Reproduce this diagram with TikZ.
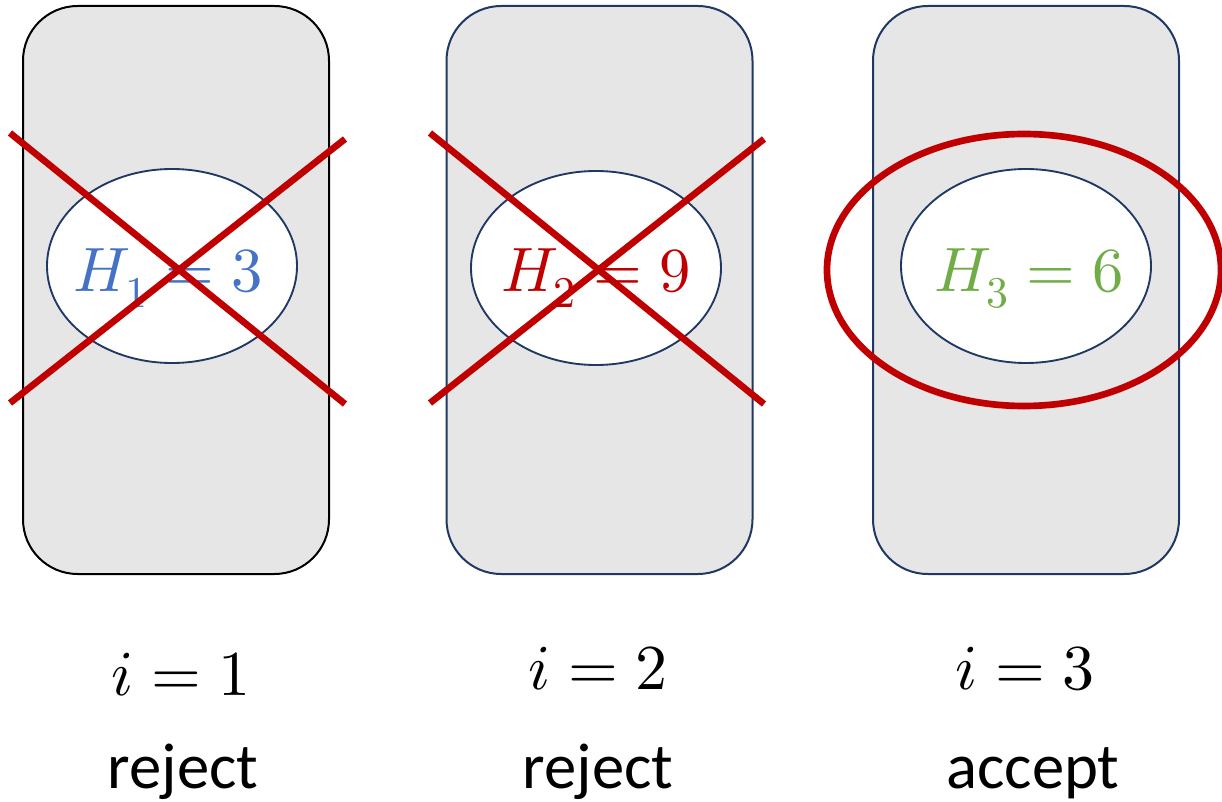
\documentclass[tikz,border=0pt]{standalone}
\usepackage{fontspec}
\usepackage{unicode-math}
\setmainfont{Carlito}
\setmathfont{Latin Modern Math}
\usetikzlibrary{shapes.geometric}
\definecolor{cardfill}{HTML}{E6E6E6}
\definecolor{navy}{HTML}{1F3864}
\definecolor{xred}{HTML}{C00000}
\definecolor{hblue}{HTML}{4472C4}
\definecolor{hgreen}{HTML}{70AD47}
\begin{document}
\begin{tikzpicture}[x=0.75pt,y=-0.75pt,
  card/.style={draw=navy,fill=cardfill,line width=1.5pt,rounded corners=41pt,
    minimum width=229.5pt,minimum height=426pt,inner sep=0pt},
  oval/.style={ellipse,draw=navy,fill=white,line width=1.4pt,
    minimum width=187.5pt,minimum height=145.5pt,inner sep=0pt},
  hval/.style={anchor=base,inner sep=0pt,font=\fontsize{47}{56}\selectfont},
  cross/.style={xred,line width=5pt},
  ring/.style={ellipse,draw=xred,line width=5pt,minimum width=295.5pt,
    minimum height=204pt,inner sep=0pt},
  idx/.style={anchor=base,inner sep=0pt,font=\fontsize{48}{58}\selectfont},
  verdict/.style={anchor=base,inner sep=0pt,font=\fontsize{48.5}{58}\selectfont}]
\useasboundingbox (0,0) rectangle (1222,802);
% cards
\node[card,draw=black] (c1) at (176,290) {};
\node[card] (c2) at (599.5,290) {};
\node[card] (c3) at (1026,290) {};
% ovals
\node[oval] (o1) at (172,266) {};
\node[oval] (o2) at (596,268) {};
\node[oval] (o3) at (1026,266) {};
% values
\node[hval,text=hblue] (h1) at (168,292) {$H_1 = 3$};
\node[hval,text=xred] (h2) at (596,292) {$H_2 = 9$};
\node[hval,text=hgreen] (h3) at (1029,292) {$H_3 = 6$};
% crosses
\draw[cross] (10,133) -- (345,404);
\draw[cross] (10,403) -- (345,139);
\draw[cross] (430,133) -- (764,404);
\draw[cross] (430,403) -- (764,139);
% accept ring
\node[ring] (r3) at (1024,270) {};
% labels
\node[idx] (i1) at (181,695) {$i = 1$};
\node[idx] (i2) at (598,689) {$i = 2$};
\node[idx] (i3) at (1025,689) {$i = 3$};
\node[verdict] (v1) at (183,788) {reject};
\node[verdict] (v2) at (598,788) {reject};
\node[verdict] (v3) at (1033,788) {accept};
\end{tikzpicture}
\end{document}
